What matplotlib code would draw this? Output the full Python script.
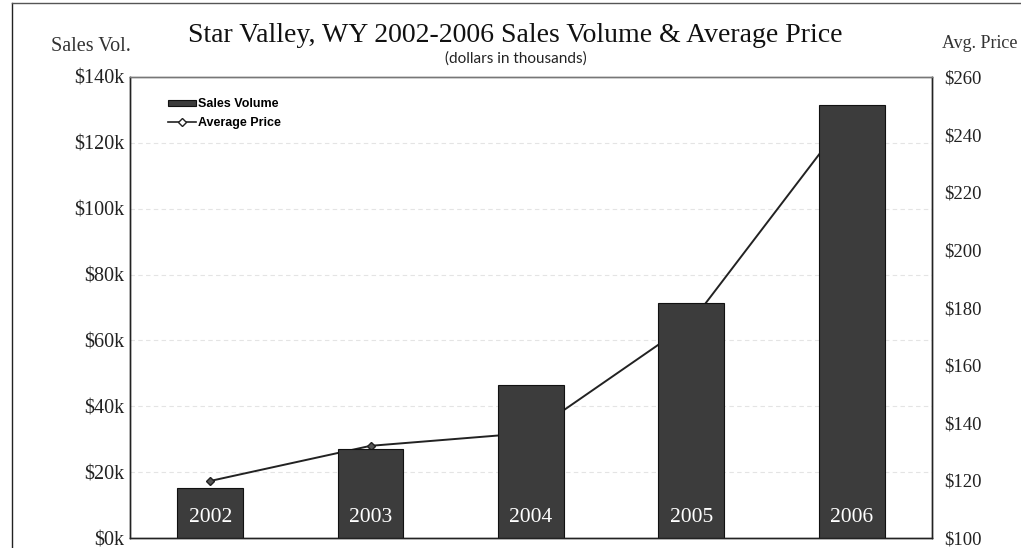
import matplotlib.pyplot as plt
import matplotlib.lines as mlines
from matplotlib.ticker import FuncFormatter
from matplotlib.transforms import blended_transform_factory

years = ['2002', '2003', '2004', '2005', '2006']
sales_volume = [15.2, 27.1, 46.5, 71.5, 131.5]   # $k (thousands)
avg_price = [119.8, 132.0, 136.5, 175.0, 248.0]  # $ thousands

serif = ['Liberation Serif', 'DejaVu Serif']
sans = ['Liberation Sans', 'DejaVu Sans']
bar_color = '#3c3c3c'

fig = plt.figure(figsize=(10.21, 5.48), dpi=100)
ax = fig.add_axes([0.1273, 0.0182, 0.7855, 0.8413])
ax2 = ax.twinx()
# bars sit in front of the price line
ax.set_zorder(ax2.get_zorder() + 1)
ax.patch.set_visible(False)

x = list(range(len(years)))
bars = ax.bar(x, sales_volume, width=0.41, color=bar_color,
              edgecolor='#111111', linewidth=0.8, label='Sales Volume')
line, = ax2.plot(x, avg_price, color='#222222', linewidth=1.4,
                 marker='D', markersize=4, markerfacecolor='#555555',
                 markeredgecolor='#222222', label='Average Price')

for xi, yr in zip(x, years):
    ax.text(xi, 0.045, yr, transform=ax.get_xaxis_transform(),
            ha='center', va='center', color='white', fontsize=15.5,
            family=serif)

ax.set_xlim(-0.5, 4.5)
ax.set_ylim(0, 140)
ax2.set_ylim(100, 260)
ax.set_yticks(range(0, 141, 20))
ax2.set_yticks(range(100, 261, 20))
ax.yaxis.set_major_formatter(FuncFormatter(lambda v, p: f'${v:.0f}k'))
ax2.yaxis.set_major_formatter(FuncFormatter(lambda v, p: f'${v:.0f}'))
ax.set_xticks([])
ax.tick_params(axis='y', length=0, pad=4, labelsize=14.5)
ax2.tick_params(axis='y', length=0, pad=9, labelsize=13.5)
for lab in ax.get_yticklabels() + ax2.get_yticklabels():
    lab.set_family(serif)
    lab.set_color('#222222')

# faint gridlines behind the line, at the sales volume ticks
grid_tr = blended_transform_factory(ax2.transAxes, ax.transData)
for v in ax.get_yticks()[1:-1]:
    ax2.plot([0, 1], [v, v], transform=grid_tr, color='#e4e4e4',
             linestyle=(0, (4, 3)), linewidth=0.8, zorder=0)

for a in (ax, ax2):
    for side in ('left', 'right', 'bottom'):
        a.spines[side].set_color('#222222')
        a.spines[side].set_linewidth(1.0)
    a.spines['top'].set_color('#777777')
    a.spines['top'].set_linewidth(1.0)

legend_line = mlines.Line2D([], [], color='#222222', linewidth=1.2,
                            marker='D', markersize=4,
                            markerfacecolor='white',
                            markeredgecolor='#222222')
leg = ax.legend([bars, legend_line], ['Sales Volume', 'Average Price'],
                loc='upper left', bbox_to_anchor=(0.034, 0.978),
                frameon=False, handlelength=2.2, handleheight=0.45,
                handletextpad=0.2, labelspacing=0.55,
                prop={'family': sans, 'weight': 'bold', 'size': 9})

fig.text(0.505, 0.936, 'Star Valley, WY 2002-2006 Sales Volume & Average Price',
         ha='center', va='center', fontsize=20, family=serif, color='#111111')
fig.text(0.505, 0.893, '(dollars in thousands)', ha='center', va='center',
         fontsize=11, family=['Lato', 'DejaVu Sans'], color='#222222')
fig.text(0.0895, 0.916, 'Sales Vol.', ha='center', va='center',
         fontsize=14.5, family=serif, color='#333333')
fig.text(0.960, 0.920, 'Avg. Price', ha='center', va='center',
         fontsize=13, family=serif, color='#333333')

# scanned page frame
fig.add_artist(mlines.Line2D([0.012, 0.012], [0.0, 0.995], color='#222222',
                             linewidth=1.0, transform=fig.transFigure))
fig.add_artist(mlines.Line2D([0.012, 1.0], [0.995, 0.995], color='#555555',
                             linewidth=1.0, transform=fig.transFigure))

fig.savefig('out.png', dpi=100)
